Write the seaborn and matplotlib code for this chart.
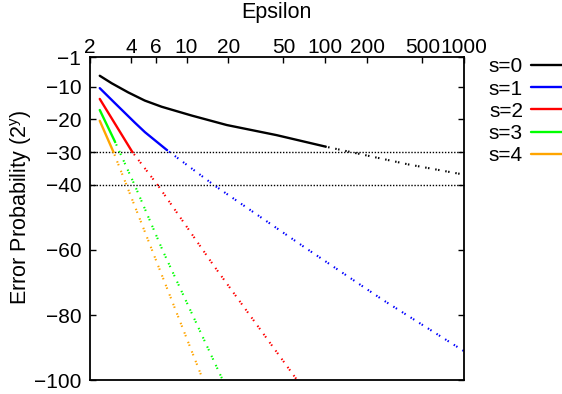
import matplotlib
matplotlib.use("Agg")
import matplotlib.pyplot as plt
from matplotlib.ticker import NullLocator
import seaborn as sns

# ---------------- data ----------------
series_labels = ["s=0", "s=1", "s=2", "s=3", "s=4"]
series_colors = ["#000000", "#0000ff", "#ff0000", "#00ff00", "#ffa500"]

s0_eps_solid = [2.37, 2.89, 3.8, 5.0, 6.62, 10.9, 19.5, 44.6, 100]
s0_err_solid = [-6.6, -8.9, -11.7, -14.2, -16.1, -18.8, -21.7, -24.8, -28.3]
s0_eps_dot = [100, 400, 1000]
s0_err_dot = [-28.3, -33.8, -36.9]

s1_eps_solid = [2.37, 3.05, 4.25, 5.02, 7.19]
s1_err_solid = [-10.4, -15.0, -21.0, -23.9, -29.3]
s1_eps_dot = [7.19, 16.0, 71.1, 260, 1000]
s1_err_dot = [-29.3, -40.3, -59.2, -75.3, -91.0]

s2_eps_solid = [2.37, 4.06]
s2_err_solid = [-13.7, -29.9]
s2_eps_dot = [4.06, 6.25, 15.6, 63.0]
s2_err_dot = [-29.9, -40.3, -64.6, -100.0]

s3_eps_solid = [2.37, 3.05]
s3_err_solid = [-17.1, -26.8]
s3_eps_dot = [3.05, 4.25, 6.79, 18.3]
s3_err_dot = [-26.8, -40.3, -60.5, -100.0]

s4_eps_solid = [2.37, 2.97]
s4_err_solid = [-20.4, -29.9]
s4_eps_dot = [2.97, 3.71, 5.70, 13.2]
s4_err_dot = [-29.9, -40.3, -60.5, -100.0]

ref_levels = [-30, -40]

x_ticks = [2, 4, 6, 10, 20, 50, 100, 200, 500, 1000]
x_ticklabels = ["2", "4", "6", "10", "20", "50", "100", "200", "500", "1000"]
y_ticks = [-1, -10, -20, -30, -40, -60, -80, -100]

solid_eps = [s0_eps_solid, s1_eps_solid, s2_eps_solid, s3_eps_solid, s4_eps_solid]
solid_err = [s0_err_solid, s1_err_solid, s2_err_solid, s3_err_solid, s4_err_solid]
dot_eps = [s0_eps_dot, s1_eps_dot, s2_eps_dot, s3_eps_dot, s4_eps_dot]
dot_err = [s0_err_dot, s1_err_dot, s2_err_dot, s3_err_dot, s4_err_dot]

# ---------------- style ----------------
sns.set_style("ticks")
plt.rcParams["font.family"] = ["Liberation Sans", "DejaVu Sans"]
plt.rcParams["mathtext.fontset"] = "custom"
plt.rcParams["mathtext.rm"] = "Liberation Sans"
plt.rcParams["mathtext.it"] = "Liberation Sans:italic"
plt.rcParams["text.color"] = "black"
plt.rcParams["axes.labelcolor"] = "black"
plt.rcParams["xtick.color"] = "black"
plt.rcParams["ytick.color"] = "black"
FS = 15

fig = plt.figure(figsize=(5.62, 3.94), dpi=100)
ax = fig.add_axes([0.1593, 0.0343, 0.6663, 0.8198])
ax.set_xscale("log")

for lvl in ref_levels:
    ax.axhline(lvl, color="black", lw=1.0, linestyle=(0, (1, 1.2)), zorder=1)

for i in range(len(series_labels)):
    sns.lineplot(x=dot_eps[i], y=dot_err[i], ax=ax, color=series_colors[i],
                 lw=1.5, linestyle=(0, (0.7, 0.7, 0.7, 2.8)), legend=False,
                 sort=False, zorder=2)
    sns.lineplot(x=solid_eps[i], y=solid_err[i], ax=ax, color=series_colors[i],
                 lw=1.7, label=series_labels[i], sort=False, zorder=3)

h, l = ax.get_legend_handles_labels()
leg = ax.legend(h, l, loc="upper right", bbox_to_anchor=(1.0, 1 - 57.5 / 394),
                bbox_transform=fig.transFigure, frameon=False, markerfirst=False,
                handlelength=1.5, handletextpad=0.37, labelspacing=0.15,
                borderpad=0, borderaxespad=0, fontsize=FS)

ax.set_xlim(2, 1000)
ax.set_ylim(-100, -1)
ax.set_xticks(x_ticks)
ax.set_xticklabels(x_ticklabels)
ax.xaxis.set_minor_locator(NullLocator())
ax.set_yticks(y_ticks)
ax.xaxis.tick_top()
ax.xaxis.set_label_position("top")
ax.tick_params(axis="x", which="both", top=True, bottom=False, direction="in",
               length=4.5, width=1, labelsize=FS, pad=0.5, colors="black")
ax.tick_params(axis="y", left=True, right=True, direction="in",
               length=4.5, width=1, labelsize=FS, pad=6, colors="black")
for sp in ax.spines.values():
    sp.set_visible(True)
    sp.set_color("black")
    sp.set_linewidth(1.3)

ax.set_xlabel("Epsilon", fontsize=15.5, labelpad=14)
ax.set_ylabel("")
fig.text(21.5 / 562, 1 - 207 / 394, r"Error Probability (2$^{\mathrm{y}}$)",
         rotation=90, ha="center", va="center", fontsize=15.5)

fig.savefig("out.png", dpi=100)
